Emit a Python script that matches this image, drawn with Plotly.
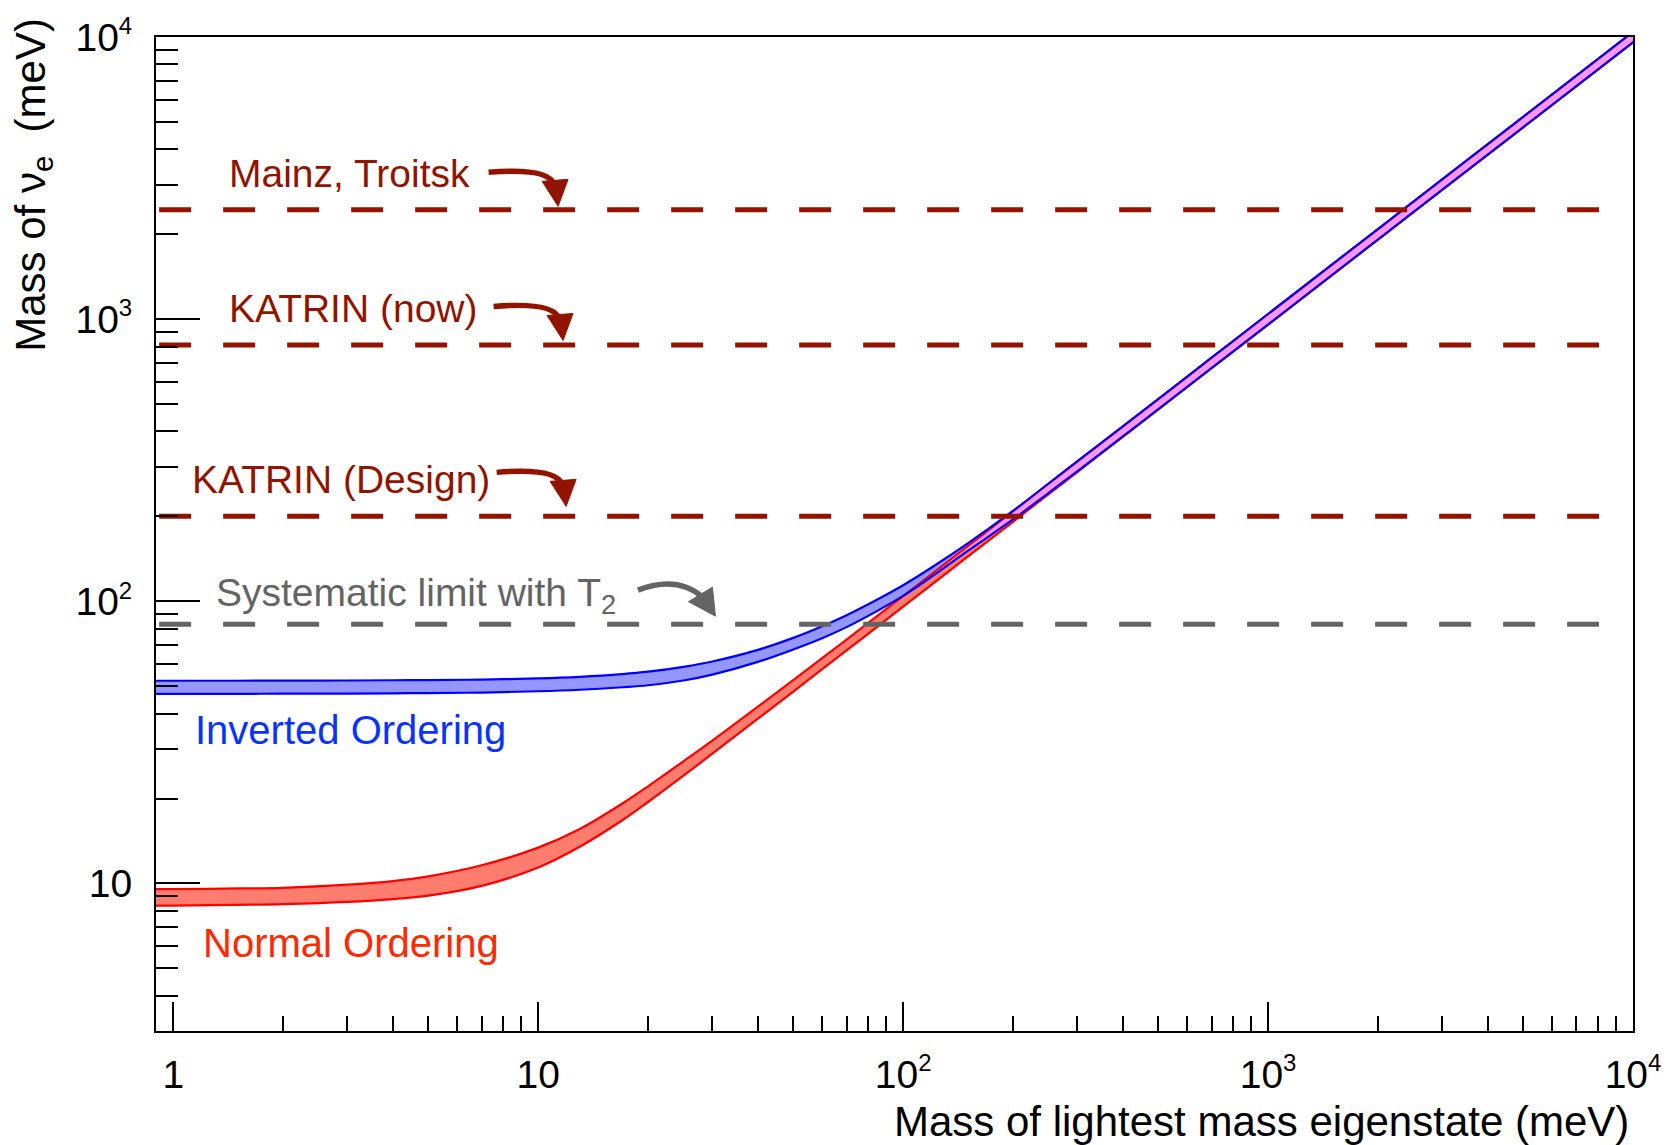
import numpy as np
import plotly.graph_objects as go

# ---------------------------------------------------------------------------
# Data (meV)
# ---------------------------------------------------------------------------
m_lightest = [0.85, 1, 1.5, 2, 3, 4, 5, 7, 10, 13, 17, 20, 25, 30, 40, 50, 60,
              70, 85, 100, 120, 150, 200, 250, 300, 400, 500, 700, 1000, 2000,
              5000, 10000, 13000]

# normal ordering band (upper / lower edge)
no_upper = [9.55, 9.55, 9.6, 9.65, 9.9, 10.2, 10.6, 11.6, 13.4, 15.6, 19.2,
            22.1, 27.1, 32.1, 42.3, 52.55, 62.9, 73.2, 88.8, 104.4, 125.2, 156.5,
            208.6, 261, 313, 417, 521, 730, 1043, 2086, 5215, 10430, 13560]
no_lower = [8.35, 8.35, 8.4, 8.45, 8.6, 8.8, 9.05, 9.8, 11.4, 13.5, 16.75,
            19.44, 24.1, 28.83, 38.36, 47.9, 57.45, 67.0, 81.35, 95.7, 114.8, 143.6,
            191.4, 239.3, 287.1, 382.8, 478.5, 670, 957, 1914, 4785, 9570, 12440]

# inverted ordering band (upper / lower edge)
io_upper = [52.3, 52.3, 52.3, 52.35, 52.4, 52.5, 52.6, 52.8, 53.3, 54.0, 55.2,
            56.3, 58.6, 61.2, 67.3, 74.2, 81.6, 89.3, 101.5, 114, 132, 160,
            209, 261, 313, 417, 521, 730, 1043, 2086, 5215, 10430, 13560]
io_lower = [47.0, 47.0, 47.0, 47.05, 47.1, 47.2, 47.3, 47.5, 48.0, 48.6, 49.6,
            50.4, 52.4, 55.0, 61.0, 67.5, 74.0, 81.0, 92.5, 104.5, 122.5, 150.5,
            195, 242, 289, 384, 479, 670, 957, 1914, 4785, 9570, 12440]

# experimental limits
limit_labels = ["Mainz, Troitsk", "KATRIN (now)", "KATRIN (Design)",
                "Systematic limit with T<sub>2</sub>"]
limit_values = [2440, 810, 200, 83]
limit_span = [0.915, 8070]

# axis ticks
x_major = [1, 10, 100, 1000, 10000]
x_major_text = ["1", "10", "10<sup>2</sup>", "10<sup>3</sup>", "10<sup>4</sup>"]
y_major = [10, 100, 1000, 10000]
y_major_text = ["10", "10<sup>2</sup>", "10<sup>3</sup>", "10<sup>4</sup>"]

# ---------------------------------------------------------------------------
# Styling
# ---------------------------------------------------------------------------
FONT = "Liberation Sans, Arial, Helvetica, sans-serif"
DARK_RED = "#921400"
GRAY = "#646464"
LIMIT_COLORS = [DARK_RED, DARK_RED, DARK_RED, GRAY]

NO_LINE, NO_FILL = "#FF0000", "#FF7D6E"
IO_LINE, IO_FILL = "#0000FF", "#9696FF"
OVERLAP_FILL = "#FF96F0"


def sup(text, size=24):
    return text.replace("<sup>", f"<sup><span style='font-size:{size}px'>").replace(
        "</sup>", "</span></sup>")


m = np.array(m_lightest)
nu, nl = np.array(no_upper), np.array(no_lower)
iu, il = np.array(io_upper), np.array(io_lower)

# region where both bands overlap (only where the bands actually meet)
ov_top = np.minimum(iu, nu)
ov_bot = np.maximum(il, nl)
ov_mask = ov_top > ov_bot
first = max(int(np.argmax(ov_mask)) - 1, 0)
ov_m = m[first:]
ov_top = ov_top[first:]
ov_bot = np.minimum(ov_bot[first:], ov_top)

fig = go.Figure()


def band(xs, upper, lower, color):
    fig.add_trace(go.Scatter(
        x=np.concatenate([xs, xs[::-1]]), y=np.concatenate([upper, lower[::-1]]),
        fill="toself", fillcolor=color, mode="lines",
        line=dict(width=0, shape="spline", smoothing=1.0),
        hoverinfo="skip", showlegend=False))


band(m, nu, nl, NO_FILL)
band(m, iu, il, IO_FILL)
band(ov_m, ov_top, ov_bot, OVERLAP_FILL)

for edges, color in ((nu, NO_LINE), (nl, NO_LINE), (iu, IO_LINE), (il, IO_LINE)):
    fig.add_trace(go.Scatter(x=m, y=edges, mode="lines",
                             line=dict(color=color, width=2.2, shape="spline",
                                       smoothing=1.0),
                             hoverinfo="skip", showlegend=False))

for value, color in zip(limit_values, LIMIT_COLORS):
    fig.add_trace(go.Scatter(x=limit_span, y=[value, value], mode="lines",
                             line=dict(color=color, width=5, dash="32px,32px"),
                             hoverinfo="skip", showlegend=False))

# ---------------------------------------------------------------------------
# Labels and curved arrows
# ---------------------------------------------------------------------------
label_pos = [(1.40, 3290), (1.40, 1090), (1.111, 270), (1.294, 105)]
arrow_tip_x = [11.34, 11.7, 11.93, 30.6]
arrow_lift = [3.5, 4.5, 10, 8]

red_arrow = dict(start=(-69.5, 34), ctrl=(-10, 39), end=(-4, 22),
                 head=[(-16, 25), (0, 0), (10, 27)])
gray_arrow = dict(start=(-77.5, 26), ctrl=(-38, 41), end=(-13, 19),
                  head=[(-27, 14.5), (0, 0), (-3, 29)])

annotations = []
shapes = []
for i, (label, value, color) in enumerate(zip(limit_labels, limit_values, LIMIT_COLORS)):
    lx, ly = label_pos[i]
    annotations.append(dict(
        x=np.log10(lx), y=np.log10(ly), xref="x", yref="y", text=label,
        showarrow=False, xanchor="left", yanchor="middle",
        font=dict(family=FONT, size=39, color=color)))
    geo = gray_arrow if i == 3 else red_arrow
    dy = arrow_lift[i]
    sx, sy = geo["start"]
    cx, cy = geo["ctrl"]
    ex, ey = geo["end"]
    curve = f"M {sx} {sy + dy} Q {cx} {cy + dy} {ex} {ey + dy}"
    h = geo["head"]
    head = (f"M {h[0][0]} {h[0][1] + dy} L {h[1][0]} {h[1][1] + dy} "
            f"L {h[2][0]} {h[2][1] + dy} Z")
    common = dict(type="path", xref="x", yref="y", xsizemode="pixel",
                  ysizemode="pixel", xanchor=arrow_tip_x[i], yanchor=value,
                  layer="above")
    shapes.append(dict(path=curve, line=dict(color=color, width=5.5), **common))
    shapes.append(dict(path=head, fillcolor=color, line=dict(color=color, width=1),
                       **common))

annotations.append(dict(x=np.log10(1.13), y=np.log10(35.0), xref="x", yref="y",
                        text="Inverted Ordering", showarrow=False,
                        xanchor="left", yanchor="middle",
                        font=dict(family=FONT, size=40, color="#0A32FF")))
annotations.append(dict(x=np.log10(1.195), y=np.log10(6.17), xref="x", yref="y",
                        text="Normal Ordering", showarrow=False,
                        xanchor="left", yanchor="middle",
                        font=dict(family=FONT, size=40, color="#FF2800")))

# axis titles
annotations.append(dict(x=0.9986, y=-0.0915, xref="paper", yref="paper",
                        text="Mass of lightest mass eigenstate (meV)",
                        showarrow=False, xanchor="right", yanchor="middle",
                        font=dict(family=FONT, size=42, color="black")))
annotations.append(dict(x=-0.0835, y=1.021, xref="paper", yref="paper",
                        text="Mass of \u03bd<sub>e</sub>  (meV)", textangle=-90,
                        showarrow=False, xanchor="center", yanchor="top",
                        font=dict(family=FONT, size=42, color="black")))

x_minor = [k * 10 ** d for d in range(0, 4) for k in range(2, 10)]
y_minor = [k for k in range(4, 10)] + [k * 10 ** d for d in range(1, 4) for k in range(2, 10)]

axis_common = dict(type="log", showgrid=False, zeroline=False, showline=True,
                   linecolor="black", linewidth=2, mirror=True, ticks="inside",
                   tickcolor="black", tickwidth=2, tickmode="array",
                   tickfont=dict(family=FONT, size=39, color="black"))

fig.update_layout(
    width=1675, height=1145,
    margin=dict(l=156, r=42, t=25, b=114),
    paper_bgcolor="white", plot_bgcolor="white",
    showlegend=False,
    xaxis=dict(range=[np.log10(0.897), 4], tickvals=x_major,
               ticktext=[sup(t) for t in x_major_text], ticklen=29,
               ticklabelstandoff=8,
               minor=dict(tickmode="array", tickvals=x_minor, ticklen=15,
                          ticks="inside", tickcolor="black", tickwidth=1.5),
               **axis_common),
    yaxis=dict(range=[np.log10(3), 4], tickvals=y_major,
               ticktext=[sup(t) for t in y_major_text], ticklen=44,
               ticklabelstandoff=14,
               minor=dict(tickmode="array", tickvals=y_minor, ticklen=22,
                          ticks="inside", tickcolor="black", tickwidth=2),
               **axis_common),
    annotations=annotations,
    shapes=shapes,
)

fig.write_html("out.html")
